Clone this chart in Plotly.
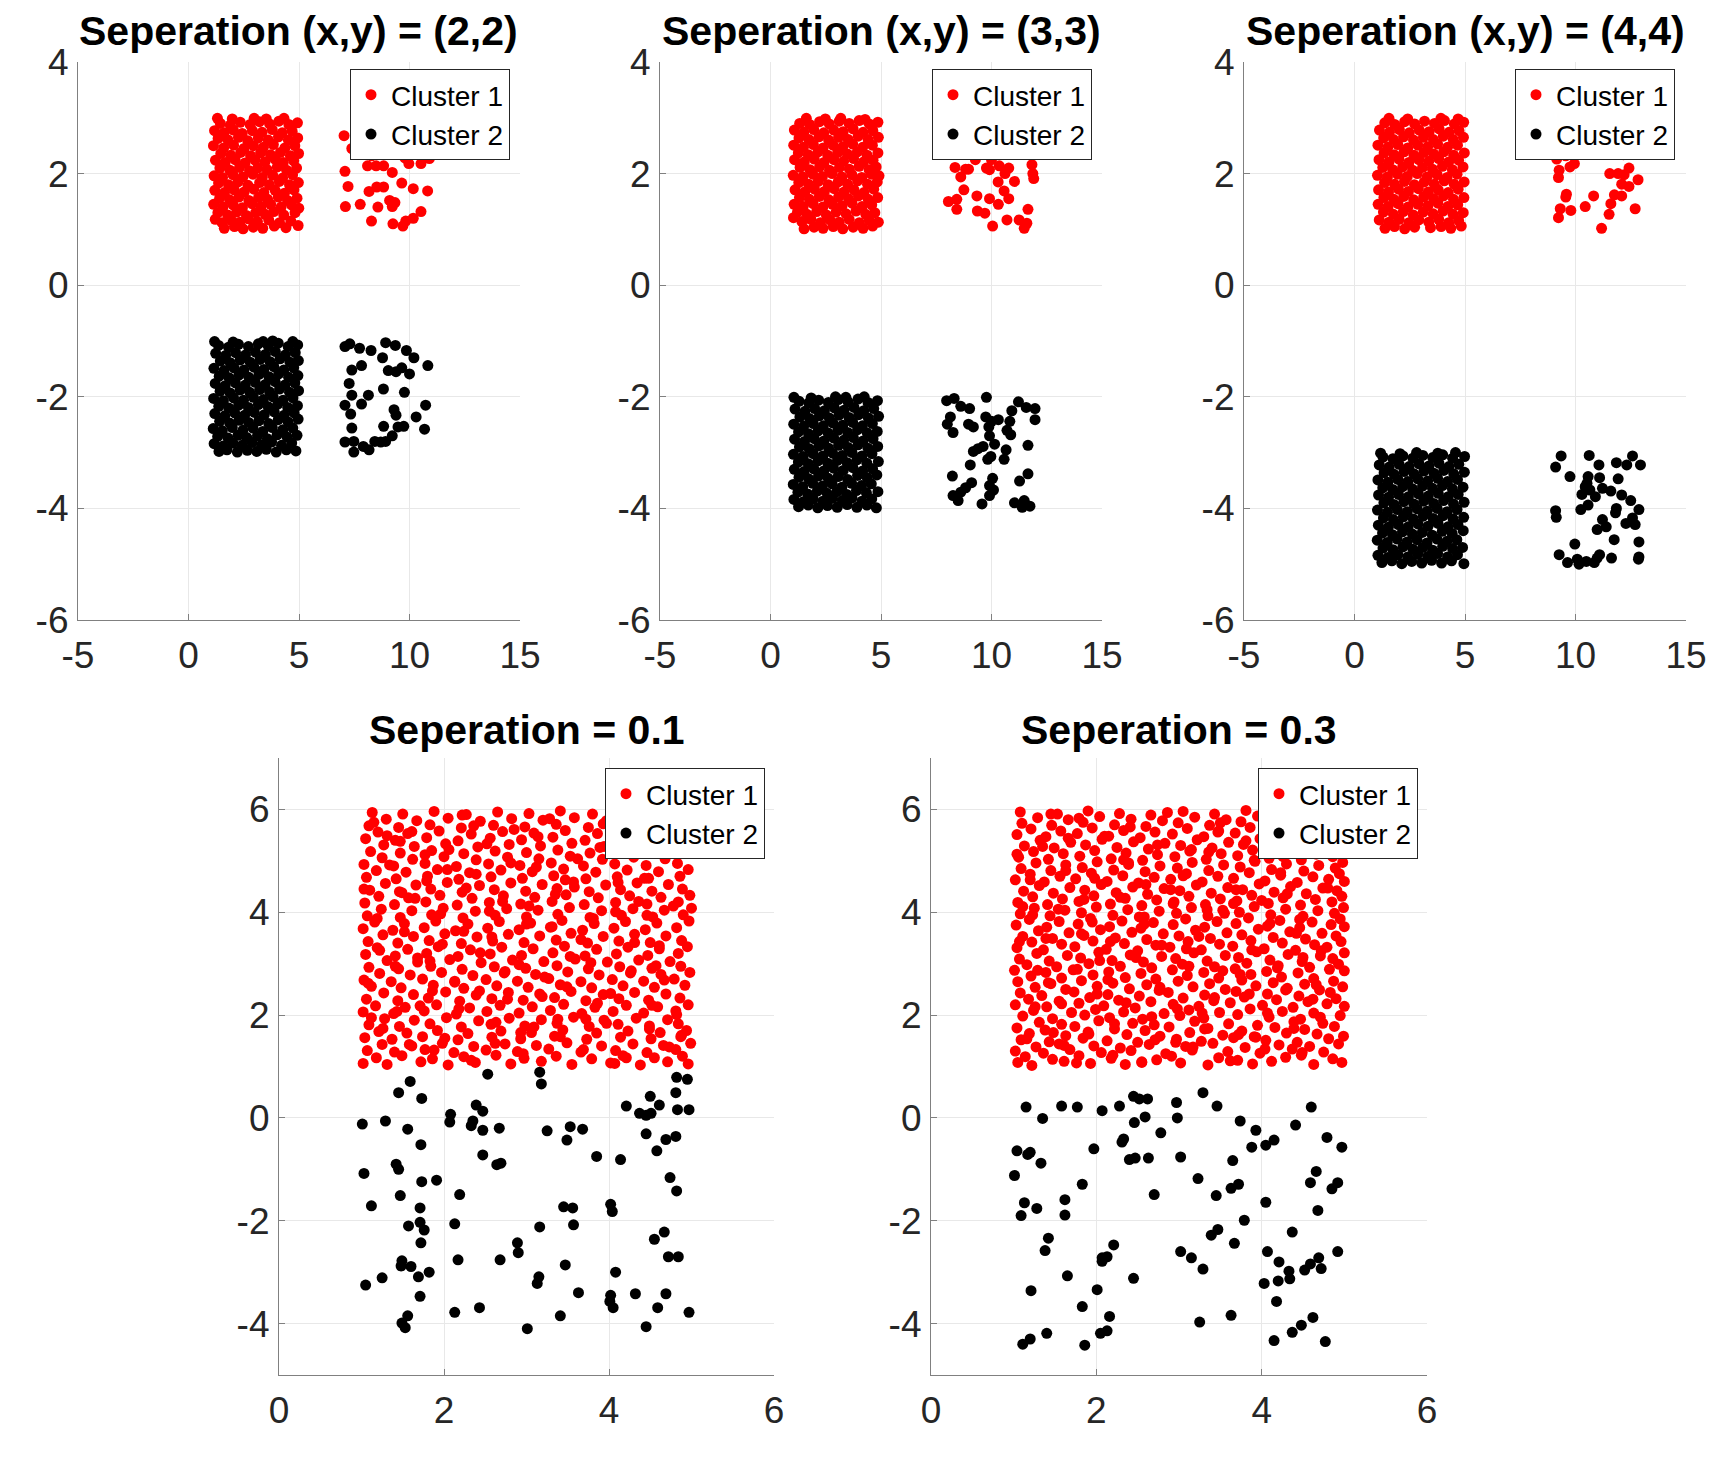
import plotly.graph_objects as go

# ---------------- data: flat lists of (x, y) pairs ----------------
titles = ["Seperation (x,y) = (2,2)", "Seperation (x,y) = (3,3)", "Seperation (x,y) = (4,4)",
          "Seperation = 0.1", "Seperation = 0.3"]
series_names = ["Cluster 1", "Cluster 2"]
top_xticks = [-5, 0, 5, 10, 15]
top_yticks = [-6, -4, -2, 0, 2, 4]
bot_xticks = [0, 2, 4, 6]
bot_yticks = [-4, -2, 0, 2, 4, 6]

# ---- panel 1: separation (2,2)
p1_c1_dense = [
 1.62,1.02, 2.08,1.05, 2.47,1.01, 2.93,1.04, 3.36,1.02, 3.88,1.06, 4.41,1.03, 4.96,1.07,
 1.21,1.18, 1.52,1.12, 1.94,1.16, 2.33,1.13, 2.71,1.19, 3.12,1.14, 3.63,1.17, 4.12,1.12, 4.63,1.15,
 1.33,1.30, 1.77,1.26, 2.18,1.31, 2.62,1.25, 3.04,1.30, 3.47,1.27, 3.86,1.32, 4.31,1.26, 4.82,1.30,
 1.14,1.45, 1.56,1.40, 2.02,1.44, 2.44,1.39, 2.87,1.46, 3.29,1.41, 3.72,1.45, 4.19,1.40, 4.66,1.44, 4.99,1.38,
 1.41,1.56, 1.86,1.53, 2.28,1.58, 2.73,1.52, 3.17,1.57, 3.58,1.54, 4.06,1.58, 4.48,1.52, 4.91,1.56,
 1.19,1.70, 1.63,1.66, 2.07,1.71, 2.52,1.67, 2.96,1.72, 3.41,1.66, 3.92,1.70, 4.34,1.65, 4.77,1.71,
 1.36,1.83, 1.81,1.80, 2.24,1.85, 2.69,1.79, 3.22,1.84, 3.66,1.80, 4.11,1.86, 4.57,1.80, 4.97,1.84,
 1.16,1.96, 1.54,1.93, 2.01,1.98, 2.46,1.94, 2.91,1.99, 3.34,1.93, 3.81,1.97, 4.26,1.92, 4.71,1.98,
 1.42,2.10, 1.87,2.06, 2.31,2.11, 2.76,2.05, 3.13,2.10, 3.56,2.07, 4.02,2.12, 4.44,2.06, 4.89,2.10,
 1.22,2.24, 1.66,2.20, 2.11,2.25, 2.56,2.19, 3.01,2.24, 3.46,2.21, 3.91,2.26, 4.29,2.20, 4.76,2.23,
 1.46,2.36, 1.91,2.33, 2.36,2.38, 2.81,2.32, 3.26,2.37, 3.71,2.34, 4.16,2.38, 4.61,2.32, 4.98,2.36,
 1.13,2.50, 1.59,2.46, 2.04,2.51, 2.51,2.45, 2.94,2.50, 3.39,2.47, 3.84,2.52, 4.36,2.46, 4.81,2.50,
 1.34,2.63, 1.79,2.60, 2.26,2.65, 2.68,2.59, 3.16,2.64, 3.61,2.60, 4.07,2.66, 4.52,2.60, 4.94,2.64,
 1.18,2.77, 1.61,2.73, 2.03,2.78, 2.43,2.72, 2.89,2.77, 3.33,2.74, 3.79,2.79, 4.24,2.73, 4.69,2.76,
 1.44,2.90, 1.89,2.87, 2.34,2.92, 2.79,2.88, 3.21,2.93, 3.67,2.89, 4.09,2.94, 4.54,2.88, 4.93,2.91,
 1.31,2.99, 1.98,2.98, 2.97,2.99, 3.52,2.98, 4.32,2.99]
p1_c1_sparse = [
 7.04,2.68, 7.83,3.01, 7.39,2.45, 7.97,2.69, 8.10,2.43, 8.28,2.32, 7.08,2.04, 8.10,2.14, 8.49,2.14,
 8.83,2.14, 9.22,2.02, 7.22,1.77, 8.17,1.68, 8.52,1.76, 8.83,1.76, 9.65,1.83, 10.17,1.73, 10.82,1.69,
 9.79,2.28, 9.97,2.18, 10.52,2.18, 10.90,2.27, 10.60,2.51, 10.17,2.51, 7.10,1.41, 7.77,1.45, 8.57,1.40,
 9.10,1.52, 9.34,1.48, 9.22,1.41, 10.52,1.32, 8.28,1.15, 9.25,1.10, 9.70,1.06, 9.83,1.15, 10.17,1.20,
 8.00,2.95, 9.00,2.80, 10.00,2.65, 10.50,2.90]
p1_c2_dense = [
 1.38,-2.98, 1.74,-2.95, 2.21,-2.99, 2.66,-2.96, 3.09,-2.98, 3.52,-2.94, 3.97,-2.99, 4.43,-2.95, 4.86,-2.97,
 1.16,-2.84, 1.57,-2.88, 2.01,-2.83, 2.43,-2.87, 2.88,-2.82, 3.31,-2.86, 3.76,-2.81, 4.21,-2.87, 4.67,-2.83,
 1.32,-2.71, 1.79,-2.74, 2.24,-2.69, 2.64,-2.73, 3.12,-2.70, 3.57,-2.75, 4.01,-2.68, 4.46,-2.72, 4.91,-2.69,
 1.12,-2.57, 1.53,-2.61, 1.98,-2.55, 2.46,-2.60, 2.92,-2.56, 3.36,-2.62, 3.79,-2.55, 4.27,-2.59, 4.72,-2.56,
 1.41,-2.44, 1.86,-2.47, 2.29,-2.42, 2.72,-2.46, 3.18,-2.43, 3.63,-2.48, 4.06,-2.41, 4.51,-2.45, 4.96,-2.40,
 1.19,-2.30, 1.64,-2.34, 2.09,-2.29, 2.54,-2.33, 2.98,-2.28, 3.43,-2.32, 3.88,-2.27, 4.33,-2.33, 4.78,-2.29,
 1.37,-2.17, 1.82,-2.20, 2.27,-2.15, 2.71,-2.19, 3.16,-2.14, 3.61,-2.18, 4.04,-2.13, 4.49,-2.19, 4.93,-2.16,
 1.14,-2.03, 1.58,-2.07, 2.04,-2.02, 2.49,-2.06, 2.94,-2.01, 3.39,-2.05, 3.83,-2.00, 4.28,-2.06, 4.73,-2.02,
 1.43,-1.90, 1.88,-1.93, 2.33,-1.88, 2.77,-1.92, 3.22,-1.87, 3.67,-1.91, 4.12,-1.86, 4.57,-1.92, 4.98,-1.89,
 1.21,-1.76, 1.66,-1.80, 2.12,-1.75, 2.57,-1.79, 3.02,-1.74, 3.47,-1.78, 3.92,-1.73, 4.36,-1.79, 4.81,-1.75,
 1.39,-1.63, 1.84,-1.66, 2.28,-1.61, 2.73,-1.65, 3.19,-1.60, 3.64,-1.64, 4.08,-1.59, 4.53,-1.65, 4.95,-1.62,
 1.15,-1.49, 1.61,-1.53, 2.06,-1.48, 2.51,-1.52, 2.96,-1.47, 3.41,-1.51, 3.86,-1.46, 4.31,-1.52, 4.76,-1.48,
 1.44,-1.36, 1.89,-1.39, 2.34,-1.34, 2.79,-1.38, 3.24,-1.33, 3.69,-1.37, 4.14,-1.32, 4.59,-1.38, 4.97,-1.35,
 1.23,-1.22, 1.68,-1.26, 2.13,-1.21, 2.58,-1.25, 3.03,-1.20, 3.48,-1.24, 3.93,-1.19, 4.38,-1.25, 4.83,-1.21,
 1.36,-1.08, 1.81,-1.11, 2.26,-1.06, 2.71,-1.10, 3.16,-1.05, 3.61,-1.09, 4.06,-1.04, 4.51,-1.10, 4.94,-1.07,
 1.18,-1.01, 2.02,-1.02, 3.38,-1.01, 3.81,-1.00, 4.72,-1.01]
p1_c2_sparse = [
 7.08,-1.10, 7.30,-1.05, 7.74,-1.13, 8.26,-1.17, 8.92,-1.03, 9.36,-1.08, 9.86,-1.17, 10.20,-1.30,
 10.83,-1.44, 8.78,-1.30, 7.83,-1.44, 7.39,-1.52, 7.27,-1.76, 9.04,-1.53, 9.39,-1.55, 9.65,-1.48,
 10.00,-1.59, 9.77,-1.92, 8.82,-1.86, 8.14,-1.97, 7.39,-1.97, 7.83,-2.13, 7.08,-2.15, 7.34,-2.31,
 9.30,-2.23, 9.39,-2.33, 10.73,-2.15, 10.30,-2.36, 9.48,-2.54, 9.74,-2.53, 8.83,-2.53, 7.39,-2.56,
 10.68,-2.58, 9.22,-2.70, 7.08,-2.81, 7.48,-2.80, 7.91,-2.89, 8.17,-2.95, 7.48,-2.99, 8.43,-2.80,
 8.70,-2.81, 8.92,-2.80]

# ---- panel 2: separation (3,3)
p2_c1_dense = [
 1.52,1.01, 1.97,1.04, 2.38,1.02, 2.84,1.05, 3.27,1.01, 3.74,1.04, 4.19,1.02, 4.62,1.06,
 1.04,1.21, 1.42,1.14, 1.83,1.18, 2.26,1.12, 2.69,1.17, 3.11,1.13, 3.56,1.18, 4.02,1.12, 4.47,1.16, 4.88,1.13,
 1.22,1.31, 1.65,1.27, 2.09,1.32, 2.53,1.26, 2.97,1.31, 3.42,1.28, 3.87,1.33, 4.31,1.27, 4.72,1.30,
 1.07,1.45, 1.48,1.41, 1.93,1.46, 2.37,1.40, 2.81,1.45, 3.24,1.42, 3.69,1.47, 4.14,1.41, 4.58,1.44,
 1.31,1.57, 1.76,1.54, 2.21,1.59, 2.64,1.53, 3.08,1.58, 3.53,1.55, 3.98,1.60, 4.42,1.54, 4.85,1.57,
 1.11,1.71, 1.55,1.67, 1.99,1.72, 2.44,1.68, 2.88,1.73, 3.33,1.67, 3.78,1.71, 4.23,1.66, 4.67,1.72,
 1.28,1.84, 1.72,1.81, 2.16,1.86, 2.61,1.80, 3.06,1.85, 3.49,1.81, 3.94,1.87, 4.39,1.81, 4.83,1.85,
 1.03,1.97, 1.46,1.94, 1.91,1.99, 2.35,1.95, 2.79,2.00, 3.23,1.94, 3.68,1.98, 4.13,1.93, 4.56,1.99, 4.91,1.96,
 1.34,2.11, 1.78,2.07, 2.22,2.12, 2.67,2.06, 3.12,2.11, 3.57,2.08, 4.01,2.13, 4.46,2.07, 4.78,2.12,
 1.09,2.25, 1.53,2.21, 1.98,2.26, 2.42,2.20, 2.87,2.25, 3.31,2.22, 3.76,2.27, 4.21,2.21, 4.64,2.24,
 1.26,2.37, 1.71,2.34, 2.15,2.39, 2.59,2.33, 3.04,2.38, 3.48,2.35, 3.93,2.39, 4.37,2.33, 4.86,2.37,
 1.05,2.51, 1.49,2.47, 1.94,2.52, 2.38,2.46, 2.83,2.51, 3.27,2.48, 3.72,2.53, 4.17,2.47, 4.61,2.51,
 1.29,2.64, 1.74,2.61, 2.19,2.66, 2.63,2.60, 3.08,2.65, 3.52,2.61, 3.97,2.67, 4.42,2.61, 4.88,2.65,
 1.08,2.78, 1.51,2.74, 1.96,2.79, 2.41,2.73, 2.86,2.78, 3.29,2.75, 3.74,2.80, 4.19,2.74, 4.63,2.77,
 1.32,2.90, 1.77,2.88, 2.22,2.93, 2.66,2.89, 3.11,2.94, 3.56,2.90, 4.01,2.95, 4.47,2.89, 4.86,2.92,
 1.62,2.99, 2.48,2.98, 3.18,2.99, 4.28,2.97]
p2_c1_sparse = [
 8.05,2.91, 8.49,2.43, 8.35,2.11, 8.83,2.08, 8.61,1.94, 8.75,1.71, 8.96,2.08, 9.27,2.25, 9.62,2.35,
 10.00,2.25, 9.77,2.10, 9.91,2.07, 10.35,2.14, 10.78,2.10, 10.61,2.00, 10.92,2.35, 10.49,2.39, 11.22,2.47,
 10.30,1.85, 11.04,1.86, 10.57,1.69, 10.78,1.55, 11.83,2.16, 11.87,2.00, 11.91,1.91, 8.05,1.50, 8.43,1.54,
 8.43,1.36, 9.34,1.60, 9.91,1.55, 10.31,1.45, 9.36,1.33, 9.70,1.29, 11.65,1.36, 10.70,1.17, 11.25,1.17,
 11.60,1.11, 11.48,1.02, 10.05,1.06, 9.00,2.80, 10.20,2.70, 11.00,2.90, 11.50,2.60]
p2_c2_dense = [
 1.27,-3.97, 1.71,-3.94, 2.14,-3.99, 2.58,-3.95, 3.02,-3.98, 3.47,-3.93, 3.91,-3.98, 4.36,-3.94, 4.79,-3.99,
 1.06,-3.84, 1.49,-3.88, 1.93,-3.83, 2.37,-3.87, 2.81,-3.82, 3.25,-3.86, 3.69,-3.81, 4.14,-3.87, 4.58,-3.83,
 1.24,-3.71, 1.68,-3.74, 2.12,-3.69, 2.56,-3.73, 3.01,-3.70, 3.45,-3.75, 3.89,-3.68, 4.34,-3.72, 4.86,-3.70,
 1.03,-3.57, 1.46,-3.61, 1.91,-3.55, 2.35,-3.60, 2.79,-3.56, 3.23,-3.62, 3.67,-3.55, 4.12,-3.59, 4.56,-3.56,
 1.29,-3.44, 1.73,-3.47, 2.17,-3.42, 2.61,-3.46, 3.06,-3.43, 3.49,-3.48, 3.94,-3.41, 4.38,-3.45, 4.81,-3.40,
 1.08,-3.30, 1.52,-3.34, 1.96,-3.29, 2.41,-3.33, 2.85,-3.28, 3.29,-3.32, 3.73,-3.27, 4.17,-3.33, 4.62,-3.29,
 1.26,-3.17, 1.71,-3.20, 2.15,-3.15, 2.59,-3.19, 3.03,-3.14, 3.47,-3.18, 3.91,-3.13, 4.36,-3.19, 4.88,-3.16,
 1.04,-3.03, 1.48,-3.07, 1.93,-3.02, 2.37,-3.06, 2.81,-3.01, 3.25,-3.05, 3.69,-3.00, 4.14,-3.06, 4.59,-3.02,
 1.31,-2.90, 1.75,-2.93, 2.19,-2.88, 2.63,-2.92, 3.08,-2.87, 3.52,-2.91, 3.96,-2.86, 4.41,-2.92, 4.85,-2.89,
 1.09,-2.76, 1.54,-2.80, 1.98,-2.75, 2.42,-2.79, 2.86,-2.74, 3.31,-2.78, 3.75,-2.73, 4.19,-2.79, 4.64,-2.75,
 1.27,-2.63, 1.72,-2.66, 2.16,-2.61, 2.61,-2.65, 3.05,-2.60, 3.49,-2.64, 3.94,-2.59, 4.38,-2.65, 4.83,-2.62,
 1.05,-2.49, 1.50,-2.53, 1.94,-2.48, 2.39,-2.52, 2.83,-2.47, 3.27,-2.51, 3.72,-2.46, 4.16,-2.52, 4.61,-2.48,
 1.33,-2.36, 1.77,-2.39, 2.21,-2.34, 2.66,-2.38, 3.10,-2.33, 3.55,-2.37, 3.99,-2.32, 4.43,-2.38, 4.89,-2.35,
 1.11,-2.22, 1.56,-2.26, 2.00,-2.21, 2.44,-2.25, 2.89,-2.20, 3.33,-2.24, 3.78,-2.19, 4.22,-2.25, 4.67,-2.21,
 1.29,-2.08, 1.73,-2.11, 2.18,-2.06, 2.62,-2.10, 3.07,-2.05, 3.51,-2.09, 3.96,-2.04, 4.41,-2.10, 4.84,-2.07,
 1.06,-2.01, 1.84,-2.02, 2.94,-2.00, 3.41,-2.01, 4.24,-2.00]
p2_c2_sparse = [
 7.97,-2.07, 8.31,-2.03, 8.61,-2.17, 9.01,-2.21, 9.77,-2.01, 11.22,-2.09, 11.57,-2.19, 11.97,-2.21,
 10.92,-2.25, 8.14,-2.36, 8.00,-2.49, 8.26,-2.64, 8.96,-2.49, 9.18,-2.54, 9.74,-2.36, 10.00,-2.44,
 10.31,-2.41, 10.83,-2.44, 11.97,-2.41, 10.70,-2.60, 10.87,-2.68, 9.88,-2.54, 9.91,-2.70, 10.14,-2.85,
 9.62,-2.89, 9.39,-2.93, 9.18,-2.98, 9.97,-3.07, 9.83,-3.12, 10.57,-3.12, 10.66,-2.95, 11.65,-2.87,
 9.04,-3.22, 8.23,-3.42, 10.05,-3.46, 11.27,-3.51, 11.65,-3.38, 9.91,-3.59, 10.09,-3.67, 9.10,-3.54,
 8.83,-3.63, 8.61,-3.71, 8.26,-3.77, 8.49,-3.86, 9.57,-3.92, 9.91,-3.77, 11.04,-3.90, 11.48,-3.86,
 11.74,-3.96, 11.39,-3.98]

# ---- panel 3: separation (4,4)
p3_c1_dense = [
 1.38,1.02, 1.81,1.05, 2.27,1.01, 2.72,1.04, 3.44,1.03, 3.92,1.05, 4.36,1.02, 4.83,1.06,
 1.12,1.17, 1.56,1.13, 2.02,1.18, 2.46,1.12, 2.91,1.17, 3.36,1.13, 3.81,1.18, 4.26,1.12, 4.71,1.16,
 1.31,1.31, 1.76,1.27, 2.21,1.32, 2.66,1.26, 3.11,1.31, 3.56,1.28, 4.01,1.33, 4.46,1.27, 4.92,1.30,
 1.07,1.45, 1.52,1.41, 1.97,1.46, 2.42,1.40, 2.87,1.45, 3.32,1.42, 3.77,1.47, 4.22,1.41, 4.67,1.44,
 1.33,1.57, 1.78,1.54, 2.23,1.59, 2.68,1.53, 3.13,1.58, 3.58,1.55, 4.03,1.60, 4.48,1.54, 4.95,1.57,
 1.09,1.71, 1.54,1.67, 1.99,1.72, 2.44,1.68, 2.89,1.73, 3.34,1.67, 3.79,1.71, 4.24,1.66, 4.69,1.72,
 1.36,1.84, 1.81,1.81, 2.26,1.86, 2.71,1.80, 3.16,1.85, 3.61,1.81, 4.06,1.87, 4.51,1.81, 4.96,1.85,
 1.04,1.97, 1.49,1.94, 1.94,1.99, 2.39,1.95, 2.84,2.00, 3.29,1.94, 3.74,1.98, 4.19,1.93, 4.64,1.99,
 1.28,2.11, 1.73,2.07, 2.18,2.12, 2.63,2.06, 3.08,2.11, 3.53,2.08, 3.98,2.13, 4.43,2.07, 4.91,2.12,
 1.11,2.25, 1.56,2.21, 2.01,2.26, 2.46,2.20, 2.91,2.25, 3.36,2.22, 3.81,2.27, 4.26,2.21, 4.71,2.24,
 1.34,2.37, 1.79,2.34, 2.24,2.39, 2.69,2.33, 3.14,2.38, 3.59,2.35, 4.04,2.39, 4.49,2.33, 4.97,2.37,
 1.06,2.51, 1.51,2.47, 1.96,2.52, 2.41,2.46, 2.86,2.51, 3.31,2.48, 3.76,2.53, 4.21,2.47, 4.66,2.51,
 1.32,2.64, 1.77,2.61, 2.22,2.66, 2.67,2.60, 3.12,2.65, 3.57,2.61, 4.02,2.67, 4.47,2.61, 4.93,2.65,
 1.13,2.78, 1.58,2.74, 2.03,2.79, 2.48,2.73, 2.93,2.78, 3.38,2.75, 3.83,2.80, 4.28,2.74, 4.73,2.77,
 1.37,2.91, 1.82,2.88, 2.27,2.93, 2.72,2.89, 3.17,2.94, 3.62,2.90, 4.07,2.95, 4.52,2.89, 4.94,2.92,
 1.56,2.99, 2.41,2.98, 3.91,2.99, 4.69,2.98]
p3_c1_sparse = [
 9.23,1.21, 9.31,1.37, 9.79,1.34, 9.56,1.58, 9.59,1.63, 9.23,1.93, 9.26,2.06, 9.15,2.26, 9.56,2.32,
 9.67,2.45, 9.95,2.18, 9.75,2.12, 10.20,2.42, 10.57,2.41, 11.06,2.41, 11.68,2.51, 12.17,2.34, 12.78,2.51,
 10.44,1.41, 10.82,1.60, 11.18,1.02, 11.52,1.27, 11.60,1.46, 11.76,1.62, 12.09,1.60, 11.55,2.00,
 11.93,2.00, 12.20,1.98, 12.42,2.10, 12.09,1.81, 12.42,1.77, 12.83,1.89, 12.70,1.37,
 10.00,2.80, 11.00,2.70, 12.00,2.90, 12.60,2.60]
p3_c2_dense = [
 1.24,-4.97, 1.69,-4.94, 2.14,-4.99, 2.59,-4.95, 3.04,-4.98, 3.49,-4.93, 3.94,-4.98, 4.39,-4.94, 4.95,-4.99,
 1.06,-4.84, 1.51,-4.88, 1.96,-4.83, 2.41,-4.87, 2.86,-4.82, 3.31,-4.86, 3.76,-4.81, 4.21,-4.87, 4.66,-4.83,
 1.29,-4.71, 1.74,-4.74, 2.19,-4.69, 2.64,-4.73, 3.09,-4.70, 3.54,-4.75, 3.99,-4.68, 4.44,-4.72, 4.89,-4.70,
 1.03,-4.57, 1.48,-4.61, 1.93,-4.55, 2.38,-4.60, 2.83,-4.56, 3.28,-4.62, 3.73,-4.55, 4.18,-4.59, 4.63,-4.56,
 1.27,-4.44, 1.72,-4.47, 2.17,-4.42, 2.62,-4.46, 3.07,-4.43, 3.52,-4.48, 3.97,-4.41, 4.42,-4.45, 4.92,-4.40,
 1.08,-4.30, 1.53,-4.34, 1.98,-4.29, 2.43,-4.33, 2.88,-4.28, 3.33,-4.32, 3.78,-4.27, 4.23,-4.33, 4.68,-4.29,
 1.31,-4.17, 1.76,-4.20, 2.21,-4.15, 2.66,-4.19, 3.11,-4.14, 3.56,-4.18, 4.01,-4.13, 4.46,-4.19, 4.94,-4.16,
 1.04,-4.03, 1.49,-4.07, 1.94,-4.02, 2.39,-4.06, 2.84,-4.01, 3.29,-4.05, 3.74,-4.00, 4.19,-4.06, 4.64,-4.02,
 1.33,-3.90, 1.78,-3.93, 2.23,-3.88, 2.68,-3.92, 3.13,-3.87, 3.58,-3.91, 4.03,-3.86, 4.48,-3.92, 4.96,-3.89,
 1.09,-3.76, 1.54,-3.80, 1.99,-3.75, 2.44,-3.79, 2.89,-3.74, 3.34,-3.78, 3.79,-3.73, 4.24,-3.79, 4.69,-3.75,
 1.28,-3.63, 1.73,-3.66, 2.18,-3.61, 2.63,-3.65, 3.08,-3.60, 3.53,-3.64, 3.98,-3.59, 4.43,-3.65, 4.91,-3.62,
 1.06,-3.49, 1.51,-3.53, 1.96,-3.48, 2.41,-3.52, 2.86,-3.47, 3.31,-3.51, 3.76,-3.46, 4.21,-3.52, 4.66,-3.48,
 1.34,-3.36, 1.79,-3.39, 2.24,-3.34, 2.69,-3.38, 3.14,-3.33, 3.59,-3.37, 4.04,-3.32, 4.49,-3.38, 4.97,-3.35,
 1.12,-3.22, 1.57,-3.26, 2.02,-3.21, 2.47,-3.25, 2.92,-3.20, 3.37,-3.24, 3.82,-3.19, 4.27,-3.25, 4.72,-3.21,
 1.29,-3.08, 1.74,-3.11, 2.19,-3.06, 2.64,-3.10, 3.09,-3.05, 3.54,-3.09, 3.99,-3.04, 4.44,-3.10, 4.98,-3.07,
 1.18,-3.01, 2.06,-3.02, 2.81,-3.00, 3.77,-3.01, 4.57,-3.00]
p3_c2_sparse = [
 9.35,-3.06, 9.10,-3.26, 10.62,-3.05, 11.06,-3.22, 11.85,-3.18, 12.32,-3.22, 12.58,-3.06, 12.94,-3.22,
 9.75,-3.43, 10.57,-3.43, 10.52,-3.55, 10.44,-3.61, 11.09,-3.45, 11.93,-3.47, 10.29,-3.75, 10.65,-3.67,
 10.90,-3.79, 11.22,-3.64, 11.60,-3.69, 12.09,-3.76, 12.50,-3.86, 10.24,-4.02, 10.57,-3.94, 9.10,-4.04,
 9.13,-4.16, 11.81,-4.08, 11.85,-4.00, 12.87,-4.02, 11.22,-4.20, 10.98,-4.38, 11.39,-4.33, 12.28,-4.27,
 12.58,-4.17, 12.70,-4.29, 11.75,-4.56, 12.87,-4.60, 9.97,-4.64, 9.26,-4.83, 9.64,-4.97, 10.08,-4.91,
 10.16,-5.00, 10.49,-4.95, 10.98,-4.89, 11.09,-4.83, 10.85,-4.97, 11.63,-4.89, 12.85,-4.91, 12.87,-4.87]

# ---- panel 4: separation 0.1
p4_c1 = [
 1.02,1.06, 1.31,1.04, 1.72,1.09, 2.05,1.03, 2.38,1.08, 2.81,1.05, 3.18,1.10, 3.55,1.04, 4.02,1.07, 4.38,1.03, 4.71,1.09, 4.96,1.05,
 1.18,1.17, 1.49,1.21, 1.86,1.15, 2.24,1.19, 2.63,1.22, 2.97,1.16, 3.36,1.20, 3.79,1.15, 4.17,1.21, 4.55,1.17, 4.89,1.20,
 1.07,1.31, 1.40,1.28, 1.77,1.33, 2.12,1.27, 2.51,1.32, 2.89,1.29, 3.27,1.34, 3.66,1.28, 4.08,1.31, 4.46,1.27, 4.81,1.33,
 1.25,1.43, 1.61,1.40, 1.98,1.45, 2.36,1.39, 2.74,1.44, 3.12,1.41, 3.49,1.46, 3.91,1.40, 4.29,1.44, 4.66,1.41, 4.99,1.45,
 1.04,1.56, 1.37,1.53, 1.74,1.58, 2.17,1.52, 2.58,1.57, 2.93,1.54, 3.34,1.59, 3.73,1.53, 4.14,1.57, 4.51,1.54, 4.87,1.58,
 1.21,1.68, 1.55,1.65, 1.92,1.70, 2.29,1.64, 2.69,1.69, 3.06,1.66, 3.44,1.71, 3.85,1.65, 4.23,1.69, 4.62,1.66, 4.94,1.70,
 1.09,1.81, 1.46,1.78, 1.83,1.83, 2.21,1.77, 2.57,1.82, 2.98,1.79, 3.37,1.84, 3.76,1.78, 4.11,1.82, 4.49,1.79, 4.84,1.83,
 1.28,1.93, 1.64,1.90, 2.03,1.95, 2.42,1.89, 2.79,1.94, 3.18,1.91, 3.57,1.96, 3.94,1.90, 4.33,1.94, 4.71,1.91,
 1.02,2.06, 1.39,2.03, 1.76,2.08, 2.15,2.02, 2.52,2.07, 2.91,2.04, 3.29,2.09, 3.67,2.03, 4.05,2.07, 4.42,2.04, 4.81,2.08,
 1.17,2.18, 1.53,2.15, 1.91,2.20, 2.31,2.14, 2.68,2.19, 3.07,2.16, 3.45,2.21, 3.83,2.15, 4.21,2.19, 4.59,2.16, 4.96,2.20,
 1.06,2.31, 1.44,2.28, 1.81,2.33, 2.19,2.27, 2.58,2.32, 2.96,2.29, 3.34,2.34, 3.72,2.28, 4.12,2.32, 4.48,2.29, 4.86,2.33,
 1.27,2.43, 1.63,2.40, 2.02,2.45, 2.39,2.39, 2.78,2.44, 3.16,2.41, 3.54,2.46, 3.93,2.40, 4.31,2.44, 4.69,2.41,
 1.12,2.56, 1.48,2.53, 1.87,2.58, 2.24,2.52, 2.64,2.57, 3.02,2.54, 3.41,2.59, 3.79,2.53, 4.17,2.57, 4.55,2.54, 4.92,2.58,
 1.03,2.68, 1.36,2.65, 1.74,2.70, 2.13,2.64, 2.51,2.69, 2.89,2.66, 3.27,2.71, 3.66,2.65, 4.04,2.69, 4.42,2.66, 4.79,2.70,
 1.22,2.81, 1.59,2.78, 1.97,2.83, 2.35,2.77, 2.73,2.82, 3.11,2.79, 3.50,2.84, 3.88,2.78, 4.26,2.82, 4.63,2.79, 4.98,2.83,
 1.09,2.93, 1.45,2.90, 1.84,2.95, 2.22,2.89, 2.61,2.94, 2.99,2.91, 3.37,2.96, 3.75,2.90, 4.13,2.94, 4.52,2.91, 4.87,2.95,
 1.31,3.06, 1.68,3.03, 2.07,3.08, 2.45,3.02, 2.83,3.07, 3.21,3.04, 3.59,3.09, 3.98,3.03, 4.36,3.07, 4.74,3.04,
 1.05,3.18, 1.41,3.15, 1.79,3.20, 2.17,3.14, 2.56,3.19, 2.94,3.16, 3.32,3.21, 3.71,3.15, 4.09,3.19, 4.47,3.16, 4.84,3.20,
 1.19,3.31, 1.56,3.28, 1.93,3.33, 2.32,3.27, 2.70,3.32, 3.08,3.29, 3.46,3.34, 3.85,3.28, 4.23,3.32, 4.61,3.29, 4.95,3.33,
 1.08,3.43, 1.44,3.40, 1.82,3.45, 2.21,3.39, 2.59,3.44, 2.97,3.41, 3.36,3.46, 3.74,3.40, 4.12,3.44, 4.50,3.41, 4.88,3.45,
 1.26,3.56, 1.63,3.53, 2.01,3.58, 2.40,3.52, 2.78,3.57, 3.16,3.54, 3.54,3.59, 3.93,3.53, 4.31,3.57, 4.69,3.54,
 1.02,3.68, 1.38,3.65, 1.76,3.70, 2.14,3.64, 2.53,3.69, 2.91,3.66, 3.29,3.71, 3.68,3.65, 4.06,3.69, 4.44,3.66, 4.82,3.70,
 1.16,3.81, 1.52,3.78, 1.90,3.83, 2.29,3.77, 2.67,3.82, 3.05,3.79, 3.43,3.84, 3.82,3.78, 4.20,3.82, 4.58,3.79, 4.97,3.83,
 1.07,3.93, 1.47,3.90, 1.85,3.95, 2.23,3.89, 2.62,3.94, 3.00,3.91, 3.38,3.96, 3.77,3.90, 4.15,3.94, 4.53,3.91, 4.90,3.95,
 1.24,4.06, 1.61,4.03, 1.99,4.08, 2.38,4.02, 2.76,4.07, 3.14,4.04, 3.52,4.09, 3.91,4.03, 4.29,4.07, 4.67,4.04, 5.00,4.08,
 1.04,4.18, 1.40,4.15, 1.78,4.20, 2.16,4.14, 2.55,4.19, 2.93,4.16, 3.31,4.21, 3.70,4.15, 4.08,4.19, 4.46,4.16, 4.84,4.20,
 1.21,4.31, 1.57,4.28, 1.95,4.33, 2.34,4.27, 2.72,4.32, 3.10,4.29, 3.48,4.34, 3.87,4.28, 4.25,4.32, 4.63,4.29, 4.98,4.33,
 1.10,4.43, 1.46,4.40, 1.84,4.45, 2.22,4.39, 2.61,4.44, 2.99,4.41, 3.37,4.46, 3.76,4.40, 4.14,4.44, 4.52,4.41, 4.89,4.45,
 1.29,4.56, 1.66,4.53, 2.04,4.58, 2.43,4.52, 2.81,4.57, 3.19,4.54, 3.57,4.59, 3.96,4.53, 4.34,4.57, 4.72,4.54,
 1.06,4.68, 1.42,4.65, 1.80,4.70, 2.18,4.64, 2.57,4.69, 2.95,4.66, 3.33,4.71, 3.72,4.65, 4.10,4.69, 4.48,4.66, 4.86,4.70,
 1.18,4.81, 1.54,4.78, 1.92,4.83, 2.31,4.77, 2.69,4.82, 3.07,4.79, 3.45,4.84, 3.84,4.78, 4.22,4.82, 4.60,4.79, 4.96,4.83,
 1.03,4.93, 1.39,4.90, 1.77,4.95, 2.15,4.89, 2.54,4.94, 2.92,4.91, 3.30,4.96, 3.69,4.90, 4.07,4.94, 4.45,4.91, 4.83,4.95,
 1.25,5.06, 1.62,5.03, 2.00,5.08, 2.39,5.02, 2.77,5.07, 3.15,5.04, 3.53,5.09, 3.92,5.03, 4.30,5.07, 4.68,5.04,
 1.11,5.18, 1.47,5.15, 1.85,5.20, 2.24,5.14, 2.62,5.19, 3.00,5.16, 3.38,5.21, 3.77,5.15, 4.15,5.19, 4.53,5.16, 4.91,5.20,
 1.27,5.31, 1.64,5.28, 2.02,5.33, 2.41,5.27, 2.79,5.32, 3.17,5.29, 3.55,5.34, 3.94,5.28, 4.32,5.32, 4.70,5.29,
 1.05,5.43, 1.41,5.40, 1.79,5.45, 2.17,5.39, 2.56,5.44, 2.94,5.41, 3.32,5.46, 3.71,5.40, 4.09,5.44, 4.47,5.41, 4.85,5.45,
 1.20,5.56, 1.56,5.53, 1.94,5.58, 2.33,5.52, 2.71,5.57, 3.09,5.54, 3.47,5.59, 3.86,5.53, 4.24,5.57, 4.62,5.54, 4.97,5.58,
 1.09,5.68, 1.45,5.65, 1.83,5.70, 2.21,5.64, 2.60,5.69, 2.98,5.66, 3.36,5.71, 3.75,5.65, 4.13,5.69, 4.51,5.66, 4.88,5.70,
 1.30,5.81, 1.67,5.78, 2.05,5.83, 2.44,5.77, 2.82,5.82, 3.20,5.79, 3.58,5.84, 3.97,5.78, 4.35,5.82, 4.73,5.79,
 1.13,5.94, 1.50,5.91, 1.88,5.96, 2.27,5.90, 2.65,5.95, 3.03,5.92, 3.41,5.97, 3.80,5.91, 4.18,5.95, 4.56,5.92, 4.93,5.96]
p4_c1_extra = [
 1.15,5.75, 1.34,4.92, 1.52,3.62, 1.71,2.18, 1.88,1.32, 2.06,5.22, 2.27,4.47, 2.44,3.21, 2.63,1.86, 2.85,5.61,
 3.03,4.12, 3.22,2.74, 3.41,1.58, 3.62,5.04, 3.81,3.88, 4.02,2.42, 4.21,1.17, 4.43,4.66, 4.61,3.35, 4.82,2.01,
 1.08,2.62, 1.26,1.74, 1.47,5.38, 1.65,4.27, 1.83,3.05, 2.01,1.55, 2.22,5.89, 2.39,4.74, 2.58,3.52, 2.77,2.31,
 2.96,1.25, 3.14,5.47, 3.35,4.35, 3.53,3.14, 3.72,1.92, 3.93,5.72, 4.11,4.58, 4.31,3.41, 4.52,2.19, 4.73,1.38,
 1.19,3.88, 1.41,2.95, 1.58,1.43, 1.77,5.12, 1.96,3.97, 2.13,2.66, 2.33,1.12, 2.52,5.33, 2.71,4.21, 2.91,2.98,
 3.09,1.77, 3.28,5.82, 3.47,4.63, 3.66,3.47, 3.86,2.23, 4.07,1.06, 4.26,5.15, 4.46,3.94, 4.67,2.68, 4.88,1.61,
 1.03,4.45, 1.22,3.26, 1.43,2.07, 1.61,5.57, 1.79,4.61, 1.98,3.38, 2.18,2.12, 2.36,5.68, 2.55,4.02, 2.74,2.85,
 2.93,1.66, 3.12,4.88, 3.31,3.72, 3.49,2.55, 3.69,1.33, 3.89,5.26, 4.08,4.01, 4.27,2.86, 4.49,1.73, 4.69,5.48,
 1.12,1.95, 1.31,5.49, 1.49,4.38, 1.68,3.11, 1.86,2.47, 2.04,4.83, 2.24,3.63, 2.43,2.47, 2.62,1.45, 2.81,4.96,
 3.00,3.77, 3.19,2.36, 3.38,1.92, 3.58,4.49, 3.78,3.02, 3.97,1.84, 4.17,5.61, 4.36,4.21, 4.57,2.96, 4.78,4.12]
p4_c2 = [
 1.01,-0.12, 1.03,-1.08, 1.12,-1.71, 1.05,-3.25, 1.25,-3.11, 1.29,-0.06, 1.45,0.49, 1.59,0.71, 1.73,0.38,
 1.56,-0.22, 1.72,-0.52, 1.42,-0.90, 1.45,-1.00, 1.47,-1.51, 1.73,-1.24, 1.91,-1.21, 1.71,-1.75, 1.71,-2.03,
 1.57,-2.10, 1.76,-2.18, 1.72,-2.43, 1.49,-2.78, 1.48,-2.88, 1.60,-2.89, 1.69,-3.09, 1.82,-3.00, 1.71,-3.47,
 1.56,-3.85, 1.49,-3.99, 1.53,-4.08, 2.08,0.07, 2.07,-0.08, 2.19,-1.49, 2.13,-2.06, 2.17,-2.76, 2.13,-3.78,
 2.33,-0.15, 2.35,-0.06, 2.39,0.25, 2.47,0.13, 2.47,-0.24, 2.53,0.85, 2.47,-0.72, 2.64,-0.91, 2.69,-0.88,
 2.67,-0.20, 2.43,-3.69, 2.68,-2.76, 2.89,-2.43, 2.90,-2.62, 3.01,-4.10, 3.16,0.89, 3.18,0.66, 3.25,-0.25,
 3.16,-2.12, 3.15,-3.09, 3.13,-3.22, 3.41,-3.85, 3.45,-1.73, 3.56,-1.75, 3.57,-2.08, 3.47,-2.86, 3.63,-3.40,
 3.49,-0.43, 3.53,-0.17, 3.68,-0.22, 3.85,-0.75, 4.02,-1.68, 4.04,-1.82, 4.08,-3.00, 4.02,-3.45, 4.01,-3.57,
 4.05,-3.69, 4.14,-0.81, 4.21,0.23, 4.37,0.09, 4.45,0.05, 4.51,0.09, 4.50,0.42, 4.61,0.25, 4.45,-0.31,
 4.58,-0.64, 4.69,-0.42, 4.81,-0.36, 4.81,0.49, 4.82,0.79, 4.95,0.75, 4.83,0.16, 4.97,0.16, 4.74,-1.16,
 4.82,-1.42, 4.55,-2.36, 4.67,-2.22, 4.72,-2.70, 4.84,-2.70, 4.69,-3.42, 4.32,-3.42, 4.59,-3.69, 4.97,-3.78,
 4.45,-4.06]

# ---- panel 5: separation 0.3
p5_c1 = [
 1.05,1.08, 1.22,1.02, 1.61,1.10, 1.93,1.06, 2.35,1.04, 2.55,1.09, 3.02,1.07, 3.35,1.03, 3.89,1.05, 4.12,1.10, 4.63,1.04, 4.97,1.08,
 1.14,1.19, 1.47,1.14, 1.79,1.21, 2.18,1.16, 2.73,1.13, 2.91,1.20, 3.48,1.17, 3.71,1.12, 4.29,1.18, 4.48,1.22, 4.86,1.15,
 1.02,1.30, 1.36,1.26, 1.68,1.33, 2.06,1.27, 2.42,1.31, 2.84,1.25, 3.16,1.32, 3.59,1.29, 3.98,1.26, 4.37,1.34, 4.75,1.28,
 1.27,1.38, 1.55,1.44, 1.97,1.40, 2.29,1.36, 2.64,1.43, 3.08,1.39, 3.41,1.45, 3.80,1.37, 4.21,1.42, 4.58,1.39, 4.93,1.44,
 1.09,1.52, 1.43,1.48, 1.84,1.55, 2.13,1.50, 2.50,1.47, 2.97,1.53, 3.27,1.49, 3.66,1.56, 4.05,1.51, 4.43,1.47, 4.81,1.54,
 1.19,1.64, 1.63,1.60, 1.90,1.67, 2.37,1.62, 2.77,1.59, 3.13,1.66, 3.53,1.61, 3.91,1.58, 4.30,1.65, 4.67,1.63, 4.99,1.59,
 1.04,1.75, 1.38,1.71, 1.74,1.78, 2.22,1.73, 2.59,1.70, 2.88,1.77, 3.35,1.74, 3.76,1.69, 4.16,1.76, 4.52,1.72, 4.88,1.78,
 1.31,1.86, 1.58,1.82, 2.03,1.89, 2.44,1.84, 2.70,1.81, 3.19,1.88, 3.60,1.83, 3.95,1.80, 4.39,1.87, 4.74,1.84,
 1.11,1.98, 1.47,1.93, 1.86,2.00, 2.16,1.95, 2.56,1.92, 3.01,1.99, 3.30,1.94, 3.71,2.01, 4.09,1.96, 4.47,1.92, 4.95,1.99,
 1.24,2.09, 1.70,2.05, 1.99,2.11, 2.33,2.06, 2.82,2.03, 3.12,2.10, 3.49,2.05, 3.86,2.12, 4.25,2.07, 4.63,2.04,
 1.02,2.20, 1.40,2.16, 1.79,2.23, 2.09,2.18, 2.47,2.14, 2.93,2.21, 3.24,2.17, 3.62,2.24, 4.01,2.19, 4.38,2.15, 4.79,2.22, 5.00,2.17,
 1.18,2.31, 1.55,2.27, 1.92,2.34, 2.27,2.29, 2.66,2.26, 3.05,2.33, 3.42,2.28, 3.79,2.35, 4.18,2.30, 4.56,2.26, 4.90,2.32,
 1.08,2.43, 1.34,2.38, 1.73,2.45, 2.14,2.40, 2.52,2.37, 2.87,2.44, 3.31,2.39, 3.69,2.46, 4.07,2.41, 4.45,2.37, 4.83,2.44,
 1.26,2.54, 1.63,2.50, 2.01,2.56, 2.40,2.51, 2.76,2.48, 3.17,2.55, 3.56,2.50, 3.93,2.57, 4.31,2.52, 4.70,2.49, 4.98,2.55,
 1.05,2.65, 1.45,2.61, 1.82,2.67, 2.20,2.62, 2.61,2.59, 2.99,2.66, 3.37,2.61, 3.76,2.68, 4.14,2.63, 4.52,2.60, 4.87,2.66,
 1.21,2.76, 1.58,2.72, 1.96,2.78, 2.35,2.73, 2.72,2.70, 3.10,2.77, 3.48,2.72, 3.87,2.79, 4.24,2.74, 4.63,2.71,
 1.01,2.87, 1.39,2.83, 1.77,2.89, 2.15,2.84, 2.54,2.81, 2.92,2.88, 3.30,2.83, 3.68,2.90, 4.06,2.85, 4.44,2.82, 4.82,2.89, 5.00,2.86,
 1.16,2.98, 1.52,2.94, 1.91,3.00, 2.29,2.95, 2.67,2.92, 3.04,2.99, 3.43,2.94, 3.82,3.01, 4.20,2.96, 4.58,2.93, 4.93,2.99,
 1.07,3.09, 1.43,3.05, 1.81,3.11, 2.19,3.06, 2.57,3.03, 2.96,3.10, 3.34,3.05, 3.72,3.12, 4.10,3.07, 4.49,3.04, 4.86,3.10,
 1.28,3.20, 1.65,3.16, 2.03,3.22, 2.41,3.17, 2.79,3.14, 3.18,3.21, 3.56,3.16, 3.94,3.23, 4.32,3.18, 4.71,3.15, 5.00,3.21,
 1.04,3.31, 1.36,3.27, 1.74,3.33, 2.12,3.28, 2.50,3.25, 2.89,3.32, 3.27,3.27, 3.65,3.34, 4.03,3.29, 4.41,3.26, 4.79,3.32,
 1.22,3.42, 1.58,3.38, 1.96,3.44, 2.34,3.39, 2.72,3.36, 3.11,3.43, 3.49,3.38, 3.87,3.45, 4.25,3.40, 4.64,3.37, 4.96,3.43,
 1.11,3.53, 1.47,3.49, 1.85,3.55, 2.23,3.50, 2.61,3.47, 3.00,3.54, 3.38,3.49, 3.76,3.56, 4.14,3.51, 4.53,3.48, 4.90,3.54,
 1.30,3.64, 1.67,3.60, 2.05,3.66, 2.43,3.61, 2.81,3.58, 3.20,3.65, 3.58,3.60, 3.96,3.67, 4.34,3.62, 4.73,3.59,
 1.03,3.75, 1.40,3.71, 1.78,3.77, 2.16,3.72, 2.54,3.69, 2.93,3.76, 3.31,3.71, 3.69,3.78, 4.07,3.73, 4.46,3.70, 4.84,3.76, 5.00,3.72,
 1.19,3.86, 1.55,3.82, 1.93,3.88, 2.31,3.83, 2.69,3.80, 3.08,3.87, 3.46,3.82, 3.84,3.89, 4.22,3.84, 4.61,3.81, 4.95,3.87,
 1.08,3.97, 1.44,3.93, 1.82,3.99, 2.20,3.94, 2.58,3.91, 2.97,3.98, 3.35,3.93, 3.73,4.00, 4.11,3.95, 4.50,3.92, 4.88,3.98,
 1.25,4.08, 1.62,4.04, 2.00,4.10, 2.38,4.05, 2.76,4.02, 3.15,4.09, 3.53,4.04, 3.91,4.11, 4.29,4.06, 4.68,4.03, 4.99,4.09,
 1.05,4.19, 1.41,4.15, 1.79,4.21, 2.17,4.16, 2.55,4.13, 2.94,4.20, 3.32,4.15, 3.70,4.22, 4.08,4.17, 4.47,4.14, 4.85,4.20,
 1.23,4.30, 1.59,4.26, 1.97,4.32, 2.35,4.27, 2.73,4.24, 3.12,4.31, 3.50,4.26, 3.88,4.33, 4.26,4.28, 4.65,4.25, 4.97,4.31,
 1.12,4.41, 1.48,4.37, 1.86,4.43, 2.24,4.38, 2.62,4.35, 3.01,4.42, 3.39,4.37, 3.77,4.44, 4.15,4.39, 4.54,4.36, 4.91,4.42,
 1.31,4.52, 1.68,4.48, 2.06,4.54, 2.44,4.49, 2.82,4.46, 3.21,4.53, 3.59,4.48, 3.97,4.55, 4.35,4.50, 4.74,4.47,
 1.02,4.63, 1.37,4.59, 1.75,4.65, 2.13,4.60, 2.51,4.57, 2.90,4.64, 3.28,4.59, 3.66,4.66, 4.04,4.61, 4.43,4.58, 4.81,4.64, 5.00,4.60,
 1.20,4.74, 1.56,4.70, 1.94,4.76, 2.32,4.71, 2.70,4.68, 3.09,4.75, 3.47,4.70, 3.85,4.77, 4.23,4.72, 4.62,4.69, 4.94,4.75,
 1.09,4.85, 1.45,4.81, 1.83,4.87, 2.21,4.82, 2.59,4.79, 2.98,4.86, 3.36,4.81, 3.74,4.88, 4.12,4.83, 4.51,4.80, 4.89,4.86,
 1.27,4.96, 1.63,4.92, 2.01,4.98, 2.39,4.93, 2.77,4.90, 3.16,4.97, 3.54,4.92, 3.92,4.99, 4.30,4.94, 4.69,4.91, 4.98,4.97,
 1.06,5.07, 1.42,5.03, 1.80,5.09, 2.18,5.04, 2.56,5.01, 2.95,5.08, 3.33,5.03, 3.71,5.10, 4.09,5.05, 4.48,5.02, 4.86,5.08,
 1.24,5.18, 1.60,5.14, 1.98,5.20, 2.36,5.15, 2.74,5.12, 3.13,5.19, 3.51,5.14, 3.89,5.21, 4.27,5.16, 4.66,5.13,
 1.13,5.29, 1.49,5.25, 1.87,5.31, 2.25,5.26, 2.63,5.23, 3.02,5.30, 3.40,5.25, 3.78,5.32, 4.16,5.27, 4.55,5.24, 4.92,5.30,
 1.32,5.40, 1.69,5.36, 2.07,5.42, 2.45,5.37, 2.83,5.34, 3.22,5.41, 3.60,5.36, 3.98,5.43, 4.36,5.38, 4.75,5.35,
 1.04,5.51, 1.39,5.47, 1.77,5.53, 2.15,5.48, 2.53,5.45, 2.92,5.52, 3.30,5.47, 3.68,5.54, 4.06,5.49, 4.45,5.46, 4.83,5.52,
 1.21,5.62, 1.57,5.58, 1.95,5.64, 2.33,5.59, 2.71,5.56, 3.10,5.63, 3.48,5.58, 3.86,5.65, 4.24,5.60, 4.63,5.57, 4.96,5.63,
 1.10,5.73, 1.46,5.69, 1.84,5.75, 2.22,5.70, 2.60,5.67, 2.99,5.74, 3.37,5.69, 3.75,5.76, 4.13,5.71, 4.52,5.68, 4.90,5.74,
 1.29,5.84, 1.66,5.80, 2.04,5.86, 2.42,5.81, 2.80,5.78, 3.19,5.85, 3.57,5.80, 3.95,5.87, 4.33,5.82, 4.72,5.79,
 1.08,5.95, 1.53,5.91, 1.90,5.97, 2.28,5.92, 2.66,5.89, 3.05,5.96, 3.43,5.91, 3.81,5.98, 4.19,5.93, 4.58,5.90, 4.91,5.96]
p5_c1_extra = [
 1.11,4.11, 1.29,2.87, 1.48,1.66, 1.66,5.44, 1.85,4.25, 2.04,3.06, 2.22,1.83, 2.41,5.66, 2.60,4.54, 2.79,3.36,
 2.98,2.12, 3.17,1.38, 3.36,5.17, 3.55,3.98, 3.74,2.79, 3.93,1.57, 4.12,5.54, 4.31,4.36, 4.50,3.12, 4.71,1.96,
 1.04,5.13, 1.23,3.95, 1.42,2.63, 1.61,1.41, 1.79,5.83, 1.98,4.66, 2.17,3.43, 2.36,2.24, 2.55,1.08, 2.74,5.31,
 2.93,4.17, 3.12,2.95, 3.31,1.73, 3.50,5.74, 3.69,4.44, 3.88,3.27, 4.07,2.04, 4.26,5.08, 4.46,3.86, 4.66,2.59,
 1.16,1.54, 1.35,5.28, 1.54,4.06, 1.72,2.88, 1.91,1.63, 2.10,5.48, 2.29,4.29, 2.48,3.12, 2.67,1.97, 2.86,5.94,
 3.05,4.71, 3.24,3.53, 3.43,2.34, 3.62,1.11, 3.81,5.39, 4.00,4.23, 4.19,2.92, 4.39,1.74, 4.59,5.66, 4.80,4.47,
 1.07,3.43, 1.26,2.16, 1.45,5.91, 1.63,4.81, 1.82,3.58, 2.01,2.41, 2.20,1.22, 2.39,4.96, 2.58,3.77, 2.77,2.54,
 2.96,1.47, 3.15,5.22, 3.34,4.05, 3.53,2.86, 3.72,1.62, 3.91,5.01, 4.10,3.78, 4.29,2.49, 4.49,1.27, 4.72,3.25,
 1.20,4.63, 1.39,3.49, 1.58,2.22, 1.76,1.07, 1.95,3.81, 2.14,2.69, 2.33,5.02, 2.52,3.91, 2.71,1.52, 2.90,4.44,
 3.09,3.29, 3.28,2.04, 3.47,5.56, 3.66,4.17, 3.85,2.41, 4.04,1.34, 4.23,4.77, 4.42,3.59, 4.62,2.31, 4.85,5.21]
p5_c2 = [
 1.15,0.21, 1.35,-0.01, 1.58,0.23, 1.77,0.21, 2.07,0.14, 2.28,0.23, 2.45,0.42, 2.52,0.37, 2.62,0.37,
 2.59,0.02, 2.46,-0.09, 2.97,0.30, 2.98,0.00, 3.29,0.49, 3.46,0.23, 3.74,-0.06, 3.93,-0.24, 3.88,-0.57,
 4.05,-0.53, 4.15,-0.43, 4.41,-0.14, 4.60,0.21, 4.79,-0.38, 4.97,-0.57, 1.04,-0.64, 1.17,-0.71, 1.20,-0.67,
 1.33,-0.88, 1.01,-1.12, 1.13,-1.65, 1.09,-1.90, 1.28,-1.76, 1.62,-1.59, 1.62,-1.89, 1.83,-1.29, 1.97,-0.60,
 2.31,-0.47, 2.33,-0.41, 2.40,-0.81, 2.47,-0.78, 2.63,-0.78, 2.78,-0.29, 2.70,-1.49, 3.02,-0.76, 3.23,-1.18,
 3.45,-1.51, 3.65,-0.83, 3.63,-1.37, 3.72,-1.29, 3.79,-1.99, 4.05,-1.64, 4.66,-1.04, 4.59,-1.26, 4.85,-1.38,
 4.92,-1.26, 4.68,-1.80, 1.42,-2.34, 1.38,-2.58, 2.07,-2.72, 2.13,-2.70, 2.07,-2.79, 2.21,-2.47, 1.65,-3.07,
 1.21,-3.36, 2.45,-3.12, 1.83,-3.67, 2.01,-3.34, 2.16,-3.86, 2.05,-4.19, 2.13,-4.14, 1.40,-4.19, 1.11,-4.40,
 1.20,-4.30, 1.86,-4.42, 3.02,-2.60, 3.15,-2.72, 3.29,-2.94, 3.39,-2.28, 3.47,-2.17, 3.67,-2.44, 3.25,-3.97,
 3.63,-3.84, 4.07,-2.60, 4.21,-2.80, 4.33,-2.98, 4.34,-3.13, 4.20,-3.17, 4.03,-3.22, 4.18,-3.57, 4.37,-2.22,
 4.52,-2.96, 4.59,-2.84, 4.69,-2.72, 4.72,-2.93, 4.92,-2.60, 4.15,-4.33, 4.37,-4.17, 4.48,-4.03, 4.62,-3.88,
 4.77,-4.35]

# ---------------- figure ----------------
FONT = "Liberation Sans, Arial, Helvetica, sans-serif"
RED, BLACK = "#ff0000", "#000000"
AXC = "#262626"
W, H, PAGE_OFF = 1725, 1457, 8   # page body margin shifts the figure by 8 px


def px_x(px):
    return (px - PAGE_OFF) / W


def px_y(py):
    return 1 - (py - PAGE_OFF) / H


TOP_Y = [px_y(620), px_y(62)]
BOT_Y = [px_y(1375), px_y(758)]

panels = [
    dict(c1=p1_c1_dense + p1_c1_sparse, c2=p1_c2_dense + p1_c2_sparse, xd=[px_x(78), px_x(520)], yd=TOP_Y,
         xr=[-5, 15], yr=[-6, 4], xt=top_xticks, yt=top_yticks, leg=(px_x(510), px_y(69)), ty=px_y(31)),
    dict(c1=p2_c1_dense + p2_c1_sparse, c2=p2_c2_dense + p2_c2_sparse, xd=[px_x(660), px_x(1102)], yd=TOP_Y,
         xr=[-5, 15], yr=[-6, 4], xt=top_xticks, yt=top_yticks, leg=(px_x(1092), px_y(69)), ty=px_y(31)),
    dict(c1=p3_c1_dense + p3_c1_sparse, c2=p3_c2_dense + p3_c2_sparse, xd=[px_x(1244), px_x(1686)], yd=TOP_Y,
         xr=[-5, 15], yr=[-6, 4], xt=top_xticks, yt=top_yticks, leg=(px_x(1675), px_y(69)), ty=px_y(31)),
    dict(c1=p4_c1 + p4_c1_extra, c2=p4_c2, xd=[px_x(279), px_x(774)], yd=BOT_Y,
         xr=[0, 6], yr=[-5, 7], xt=bot_xticks, yt=bot_yticks, leg=(px_x(765), px_y(768)), ty=px_y(730)),
    dict(c1=p5_c1 + p5_c1_extra, c2=p5_c2, xd=[px_x(931), px_x(1427)], yd=BOT_Y,
         xr=[0, 6], yr=[-5, 7], xt=bot_xticks, yt=bot_yticks, leg=(px_x(1418), px_y(768)), ty=px_y(730)),
]

fig = go.Figure()
layout = dict(width=W, height=H, margin=dict(l=0, r=0, t=0, b=0, autoexpand=False),
              paper_bgcolor="white", plot_bgcolor="white", showlegend=True,
              font=dict(family=FONT, color=AXC), annotations=[])

for i, p in enumerate(panels):
    sfx = "" if i == 0 else str(i + 1)
    legname = "legend" if i == 0 else f"legend{i + 1}"
    for pts, col, nm in ((p["c1"], RED, series_names[0]), (p["c2"], BLACK, series_names[1])):
        fig.add_trace(go.Scatter(x=pts[0::2], y=pts[1::2], mode="markers", name=nm,
                                 marker=dict(color=col, size=11, line=dict(width=0)),
                                 xaxis="x" + sfx, yaxis="y" + sfx, legend=legname, hoverinfo="skip"))
    common = dict(showline=True, linecolor="#808080", linewidth=1.2, ticks="inside", ticklen=6,
                  tickcolor="#808080", showgrid=True, gridcolor="#e8e8e8", gridwidth=1, zeroline=False,
                  tickfont=dict(family=FONT, size=37, color=AXC), mirror=False, automargin=False)
    layout["xaxis" + sfx] = dict(common, domain=p["xd"], range=p["xr"], anchor="y" + sfx,
                                 tickvals=p["xt"], ticktext=[str(v) for v in p["xt"]],
                                 ticklabelstandoff=2)
    layout["yaxis" + sfx] = dict(common, domain=p["yd"], range=p["yr"], anchor="x" + sfx,
                                 tickvals=p["yt"], ticktext=[str(v) for v in p["yt"]],
                                 ticklabelstandoff=1)
    layout[legname] = dict(x=p["leg"][0], y=p["leg"][1], xanchor="right", yanchor="top",
                           xref="paper", yref="paper", bgcolor="white", bordercolor=AXC, borderwidth=1,
                           font=dict(family=FONT, size=28, color="#000000"), itemwidth=30,
                           traceorder="normal", tracegroupgap=0)
    layout["annotations"].append(dict(text=titles[i], x=(p["xd"][0] + p["xd"][1]) / 2, y=p["ty"],
                                      xref="paper", yref="paper", xanchor="center", yanchor="middle",
                                      showarrow=False,
                                      font=dict(family=FONT, size=41, color="#000000", weight="bold")))

fig.update_layout(**layout)
fig.write_html("out.html")
